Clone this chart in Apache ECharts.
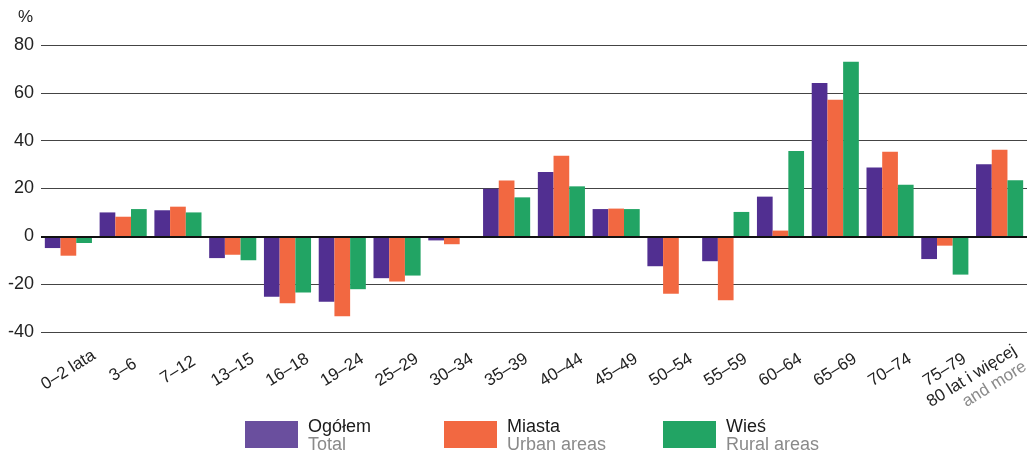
<!DOCTYPE html>
<html>
<head>
<meta charset="utf-8">
<script src="https://cdn.jsdelivr.net/npm/echarts@6/dist/echarts.min.js"></script>
<style>
  html, body { margin: 0; padding: 0; background: #fff; }
  #chart { width: 1027px; height: 458px; }
</style>
</head>
<body>
<div id="chart"></div>
<script>
var categories = ["0–2 lata", "3–6", "7–12", "13–15", "16–18", "19–24", "25–29", "30–34", "35–39",
  "40–44", "45–49", "50–54", "55–59", "60–64", "65–69", "70–74", "75–79", "80 lat i więcej"];
var ogolem = [-4.9, 10.0, 10.9, -9.1, -25.3, -27.4, -17.5, -1.7, 19.9, 26.9, 11.4, -12.5, -10.4, 16.6, 64.1, 28.8, -9.5, 30.1];
var miasta = [-8.1, 8.2, 12.4, -7.7, -28.0, -33.4, -18.9, -3.3, 23.3, 33.7, 11.6, -24.0, -26.7, 2.4, 57.1, 35.4, -3.9, 36.2];
var wies = [-2.8, 11.4, 10.0, -10.0, -23.5, -22.1, -16.4, 0, 16.3, 20.9, 11.4, -0.7, 10.2, 35.7, 73.0, 21.6, -16.0, 23.5];

var seriesNames = ["Ogółem", "Miasta", "Wieś"];
var seriesNamesEn = ["Total", "Urban areas", "Rural areas"];
var barColors = ["#512f91", "#f26841", "#22a464"];
var legendColors = ["#6a4f9e", "#f26841", "#22a464"];
var legendLeft = [245, 444, 663];

var chart = echarts.init(document.getElementById("chart"));
var font = "'Liberation Sans', Arial, sans-serif";

var legends = seriesNames.map(function (n, i) {
  return {
    left: legendLeft[i],
    top: 418,
    padding: 0,
    itemWidth: 53,
    itemHeight: 27,
    icon: "rect",
    selectedMode: false,
    data: [{ name: n, itemStyle: { color: legendColors[i] } }],
    formatter: function () {
      return "{a|" + n + "}\n{b|" + seriesNamesEn[i] + "}";
    },
    textStyle: {
      padding: [3, 0, 0, 5],
      rich: {
        a: { fontFamily: font, fontSize: 18, color: "#1a1a1a", lineHeight: 18 },
        b: { fontFamily: font, fontSize: 18, color: "#8a8a8a", lineHeight: 18 }
      }
    }
  };
});

// last category label sits a bit left of its tick
var xData = categories.map(function (c, i) {
  if (i === categories.length - 1) {
    return { value: c, textStyle: { align: "center", verticalAlign: "middle", padding: [0, 54, 0, 0] } };
  }
  return c;
});

var seriesData = [ogolem, miasta, wies];
var series = seriesNames.map(function (n, i) {
  var s = {
    name: n,
    type: "bar",
    data: seriesData[i],
    barGap: "0%",
    barCategoryGap: "14%",
    itemStyle: { color: barColors[i] }
  };
  if (i === 2) {
    // darker zero line over the bars
    s.markLine = {
      silent: true,
      symbol: "none",
      label: { show: false },
      lineStyle: { color: "#111", width: 2, type: "solid" },
      data: [{ yAxis: 0 }]
    };
  }
  return s;
});

chart.setOption({
  animation: false,
  backgroundColor: "#fff",
  grid: { left: 41, right: 0, top: 45, bottom: 126, containLabel: false, outerBoundsMode: "none" },
  legend: legends,
  xAxis: {
    type: "category",
    data: xData,
    axisLine: { show: false, onZero: false },
    axisTick: { show: false },
    axisLabel: {
      interval: 0,
      rotate: 32,
      align: "center",
      verticalAlign: "middle",
      margin: 38,
      fontFamily: font,
      fontSize: 17,
      color: "#222",
      hideOverlap: false,
      formatter: function (v) {
        if (v === "80 lat i więcej") return "{a|" + v + "}\n{g|and more}";
        return v;
      },
      rich: {
        a: { fontFamily: font, fontSize: 17, color: "#222", align: "right", lineHeight: 19 },
        g: { fontFamily: font, fontSize: 17, color: "#8a8a8a", align: "right", lineHeight: 19 }
      }
    }
  },
  yAxis: {
    type: "value",
    min: -40,
    max: 80,
    interval: 20,
    name: "%",
    nameLocation: "end",
    nameGap: 19,
    nameTextStyle: { fontFamily: font, fontSize: 17, color: "#222", align: "right", padding: [0, 8, 0, 0] },
    axisLine: { show: false },
    axisTick: { show: false },
    axisLabel: { margin: 7, fontFamily: font, fontSize: 18, color: "#222" },
    splitLine: { lineStyle: { color: "#444", width: 1 } }
  },
  series: series
});
</script>
</body>
</html>
